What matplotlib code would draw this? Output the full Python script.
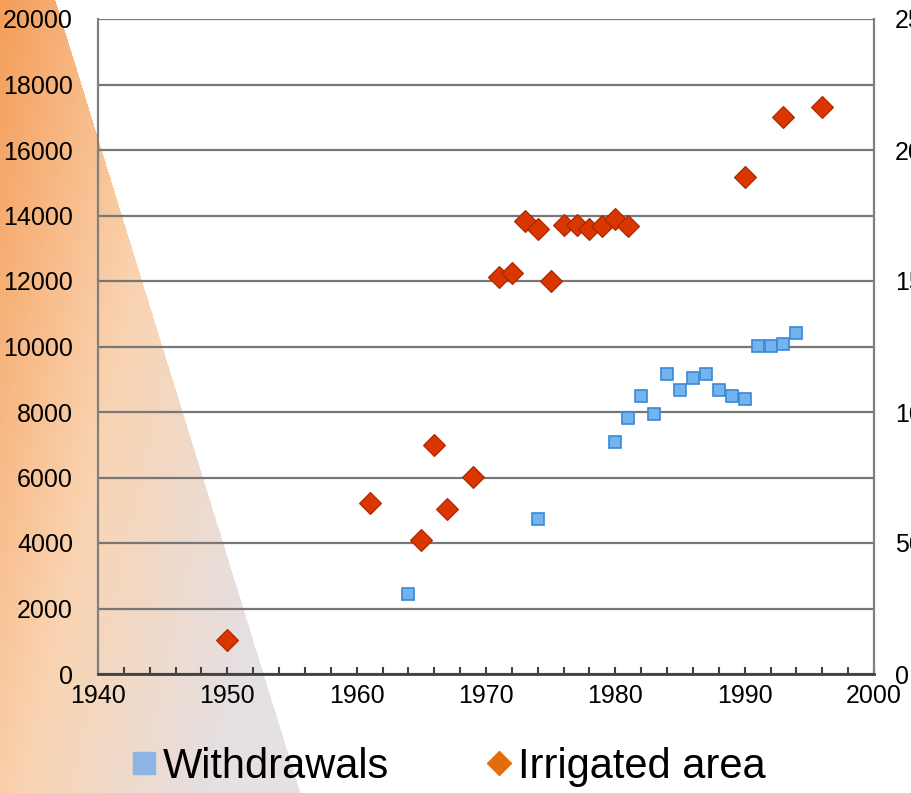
import numpy as np
import matplotlib
matplotlib.use('Agg')
import matplotlib.pyplot as plt
from matplotlib.lines import Line2D

plt.rcParams['font.family'] = ['Liberation Sans', 'DejaVu Sans']

# Irrigated area
irr_years = [1950, 1961, 1965, 1966, 1967, 1969, 1971, 1972, 1973, 1974, 1975,
             1976, 1977, 1978, 1979, 1980, 1981, 1990, 1993, 1996]
irr_values = [1040, 5220, 4090, 6990, 5040, 6020, 12120, 12240, 13830, 13590, 12000,
              13710, 13710, 13590, 13680, 13890, 13680, 15180, 17010, 17310]

# Withdrawals
wd_years = [1964, 1974, 1980, 1981, 1982, 1983, 1984, 1985, 1986, 1987, 1988,
            1989, 1990, 1991, 1992, 1993, 1994]
wd_values = [2440, 4730, 7080, 7820, 8490, 7940, 9160, 8670, 9040, 9160, 8670,
             8490, 8400, 10020, 10020, 10080, 10410]

left_ticks = list(range(0, 20001, 2000))
right_ticks = list(range(0, 25001, 5000))
x_labels = [1940, 1950, 1960, 1970, 1980, 1990, 2000]

W, H = 912, 793
fig = plt.figure(figsize=(W / 100, H / 100), dpi=100)

# orange triangle background on the left
yy, xx = np.mgrid[0:H, 0:W]
inside = xx < 55 + 0.309 * yy
t = np.clip(xx / 300 * 0.75 + yy / H * 0.45, 0, 1)[..., None]
c0 = np.array([244, 158, 88]) / 255
c1 = np.array([250, 212, 178]) / 255
c2 = np.array([228, 224, 228]) / 255
col = np.where(t < 0.5, c0 + (c1 - c0) * (t / 0.5), c1 + (c2 - c1) * ((t - 0.5) / 0.5))
img = np.ones((H, W, 4))
img[..., :3] = np.where(inside[..., None], col, 1.0)
fig.figimage(img, 0, 0, origin='upper', zorder=-10)

ax = fig.add_axes([98 / W, 1 - 674 / H, (874 - 98) / W, (674 - 19) / H])
ax.set_zorder(1)
ax.set_facecolor('none')
ax.set_xlim(1940, 2000)
ax.set_ylim(0, 20000)
ax.set_yticks(left_ticks)
ax.set_xticks(x_labels)
ax.set_xticks(range(1940, 2001, 2), minor=True)
ax.grid(axis='y', color='#777777', linewidth=1.6, zorder=1)
ax.set_axisbelow(True)
for s in ['left', 'right']:
    ax.spines[s].set_color('#808080')
    ax.spines[s].set_linewidth(1.6)
ax.spines['top'].set_visible(False)
ax.spines['bottom'].set_color('#404040')
ax.spines['bottom'].set_linewidth(2)
ax.tick_params(axis='y', length=0, pad=18, labelsize=18)
ax.tick_params(axis='x', which='both', direction='in', length=5, color='#404040',
               width=1.5, pad=7, labelsize=18)

ax.plot(wd_years, wd_values, linestyle='none', marker='s', markersize=8,
        markerfacecolor='#72B4EE', markeredgecolor='#3A88D8', markeredgewidth=1.2, zorder=3)
ax.plot(irr_years, irr_values, linestyle='none', marker='D', markersize=11,
        markerfacecolor='#D93600', markeredgecolor='#A82400', markeredgewidth=0.8, zorder=3)

ax2 = ax.twinx()
ax2.set_zorder(2)
ax2.set_ylim(0, 25000)
ax2.set_yticks(right_ticks)
ax2.tick_params(axis='y', length=0, pad=15, labelsize=18)
for s in ax2.spines.values():
    s.set_visible(False)

handles = [
    Line2D([], [], linestyle='none', marker='s', markersize=16,
           markerfacecolor='#8DB4E2', markeredgecolor='#8DB4E2'),
    Line2D([], [], linestyle='none', marker='D', markersize=12,
           markerfacecolor='#E46C0A', markeredgecolor='#E46C0A'),
]
fig.legend(handles, ['Withdrawals', 'Irrigated area'], loc='center',
           bbox_to_anchor=(0.492, 0.033), ncol=2, frameon=False, fontsize=30,
           handlelength=0.6, handletextpad=0.15, columnspacing=2.33)

fig.savefig('out.png', dpi=100)
